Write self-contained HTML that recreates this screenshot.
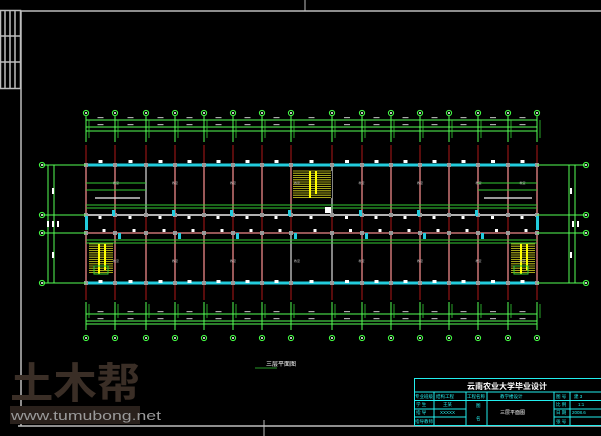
<!DOCTYPE html>
<html><head><meta charset="utf-8"><style>
html,body{margin:0;padding:0;background:#000;width:601px;height:436px;overflow:hidden}
svg{display:block}
text{font-family:"Liberation Sans","Noto Sans CJK SC",sans-serif}
</style></head><body>
<svg id="s" width="601" height="436" viewBox="0 0 601 436" xmlns="http://www.w3.org/2000/svg">
<rect width="601" height="436" fill="#000"/>
<!-- frame -->
<g stroke="#bdbdbd" stroke-width="1.5" fill="none">
<line x1="21" y1="11" x2="601" y2="11"/>
<line x1="21" y1="11" x2="21" y2="426"/>
<line x1="18" y1="426" x2="601" y2="426"/>
<rect x="0.5" y="10.5" width="20" height="78"/>
<line x1="0" y1="36" x2="21" y2="36"/><line x1="0" y1="62" x2="21" y2="62"/>
<line x1="5" y1="10" x2="5" y2="88"/><line x1="10" y1="10" x2="10" y2="88"/><line x1="15" y1="10" x2="15" y2="88"/>
</g>
<line x1="305" y1="0" x2="305" y2="11" stroke="#bdbdbd"/>
<line x1="264" y1="420" x2="264" y2="436" stroke="#bdbdbd"/>
<g id="plan"></g>
<!-- caption -->
<text x="266" y="366" font-size="6" fill="#fff">三层平面图</text>
<line x1="255" y1="368" x2="277" y2="368" stroke="#3c3" stroke-width="0.8"/>
<!-- watermark -->
<text x="10" y="398" font-size="42" font-weight="bold" fill="#3a2e26" textLength="130" lengthAdjust="spacingAndGlyphs" font-family="'Noto Sans CJK SC',sans-serif">土木帮</text>
<rect x="10" y="406" width="130" height="18" fill="#2a211c"/>
<text x="11" y="420" font-size="13" fill="#9a9a9a" textLength="150" lengthAdjust="spacingAndGlyphs" font-family="'Liberation Mono',monospace">www.tumubong.net</text>
<!-- title block -->
<g stroke="#2ee" stroke-width="1" fill="none">
<rect x="414.5" y="378.5" width="190" height="47"/>
<line x1="414" y1="392" x2="601" y2="392"/>
<line x1="414" y1="400.5" x2="601" y2="400.5"/>
<line x1="414" y1="409" x2="466" y2="409"/>
<line x1="554" y1="409" x2="601" y2="409"/>
<line x1="414" y1="417" x2="466" y2="417"/>
<line x1="554" y1="417" x2="601" y2="417"/>
<line x1="434" y1="392" x2="434" y2="426"/>
<line x1="466" y1="392" x2="466" y2="426"/>
<line x1="487" y1="392" x2="487" y2="426"/>
<line x1="554" y1="392" x2="554" y2="426"/>
<line x1="570" y1="392" x2="570" y2="426"/>
</g>
<text x="507" y="389" font-size="8" font-weight="bold" fill="#fff" text-anchor="middle">云南农业大学毕业设计</text>
<g fill="#2ee" font-size="4.5">
<text x="415" y="398">专业班级</text><text x="436" y="398">结构工程</text><text x="467" y="398">工程名称</text><text x="500" y="398">教学楼设计</text>
<text x="556" y="398">图 号</text><text x="574" y="398">建 3</text>
<text x="416" y="406">学 生</text><text x="443" y="406">王某</text><text x="476" y="407">图</text><text x="556" y="406">比 例</text><text x="578" y="406">1:1</text>
<text x="416" y="414">指 导</text><text x="440" y="414">XXXXX</text><text x="476" y="420">名</text><text x="556" y="414">日 期</text><text x="572" y="414">2008.6</text>
<text x="415" y="423">指导教师</text><text x="556" y="423">张 号</text>
</g>
<text x="500" y="414" font-size="5" fill="#fff">三层平面图</text>
</svg>
<script>
var g=document.getElementById('plan'),NS='http://www.w3.org/2000/svg',h='';
function L(x1,y1,x2,y2,c,w){h+='<line x1="'+x1+'" y1="'+y1+'" x2="'+x2+'" y2="'+y2+'" stroke="'+c+'" stroke-width="'+(w||1)+'"/>';}
function R(x,y,w,hh,c){h+='<rect x="'+x+'" y="'+y+'" width="'+w+'" height="'+hh+'" fill="'+c+'"/>';}
function C(x,y){h+='<circle cx="'+x+'" cy="'+y+'" r="2.6" fill="none" stroke="#4f4" stroke-width="1"/><circle cx="'+x+'" cy="'+y+'" r="1" fill="#fff"/>';}
var xs=[86,115,146,175,204,233,262,291,332,362,391,420,449,478,508,537];
var G='#3c3',GL='#5f5';
// red axis lines
xs.forEach(function(x){L(x,145,x,300,'#b01818',1);});
[165,215,233,283].forEach(function(y){L(60,y,565,y,'#b01818',0.8);});
// interior walls (pink)
xs.forEach(function(x,i){L(x,165,x,215,(i==8||i==2)?'#ccc':'#e88',1.3);L(x,233,x,283,(i==7||i==8)?'#ccc':'#e88',1.3);});
// corridor walls
L(86,215,537,215,'#ccc',1.8);L(86,233,537,233,'#e88',1.3);
// exterior cyan walls
L(86,165,537,165,'#2cd',3);L(86,283,537,283,'#2cd',3);
// corridor green bands
L(86,205,537,205,G,1);L(86,208,537,208,G,1);L(86,240,537,240,G,1);L(86,243,537,243,G,1);
L(86,183,146,183,G,1);L(86,190,146,190,G,1);L(95,198,140,198,'#ccc',1.5);
L(478,183,537,183,G,1);L(478,190,537,190,G,1);L(484,198,532,198,'#ccc',1.5);
// columns
xs.forEach(function(x){[165,215,233,283].forEach(function(y){R(x-2,y-2,4,4,'#999');});});
// windows white marks
for(var i=0;i<xs.length-1;i++){var m=(xs[i]+xs[i+1])/2;R(m-2,160,4,3,'#fff');R(m-2,280,4,3,'#fff');R(m-2,216,3,3,'#fff');R(m+2,229,3,3,'#fff');}
// doors cyan
[115,175,233,291,362,420,478].forEach(function(x){R(x-3,210,3,6,'#2cd');R(x+3,233,3,6,'#2cd');});
R(85,216,3,14,'#2cd');R(536,216,3,14,'#2cd');
// stairs
function ST(x,y,w,hh){R(x,y,w,hh,'#000');for(var k=0;k<=hh;k+=2.2)L(x+1,y+k,x+w-1,y+k,'#dd2',0.8);L(x+w/2-2,y,x+w/2-2,y+hh,'#ff0',2);L(x+w/2+4,y,x+w/2+4,y+hh-4,'#ff0',2);}
ST(292,171,40,27);ST(88,244,26,30);ST(510,244,26,30);
h+='<rect x="94" y="266" width="14" height="8" fill="none" stroke="'+G+'"/>';
h+='<rect x="514" y="266" width="14" height="8" fill="none" stroke="'+G+'"/>';
R(325,207,6,6,'#fff');
// dimension lines top
[120,127,131].forEach(function(y){L(86,y,537,y,GL,0.9);});
[304+10,321,324].forEach(function(y){L(86,y,537,y,GL,0.9);});
xs.forEach(function(x){L(x,116,x,142,GL,1);L(x+3,120,x+3,138,G,0.8);L(x,302,x,330,GL,1);L(x+3,304,x+3,318,G,0.8);C(x,113);C(x,338);});
for(var i=0;i<xs.length-1;i++){var m=(xs[i]+xs[i+1])/2;R(m-3,117,6,1.2,'#aaa');R(m-3,124,6,1.2,'#aaa');R(m-3,311,6,1.2,'#aaa');R(m-3,318,6,1.2,'#aaa');}
// side dims
[[48,54],[575,569]].forEach(function(p){L(p[0],165,p[0],283,GL,1);L(p[1],165,p[1],283,GL,1);});
[165,215,233,283].forEach(function(y){L(42,y,86,y,GL,0.9);L(537,y,586,y,GL,0.9);C(42,y);C(586,y);});
R(52,188,2,6,'#fff');R(52,252,2,6,'#fff');R(570,188,2,6,'#fff');R(570,252,2,6,'#fff');
R(47,221,2,6,'#fff');R(52,221,2,6,'#fff');R(57,221,2,6,'#fff');R(572,221,2,6,'#fff');R(577,221,2,6,'#fff');
// room labels
for(var i=0;i<xs.length-1;i+=2){var m=(xs[i]+xs[i+1]);h+='<text x="'+((xs[i]+xs[Math.min(i+2,15)])/2)+'" y="184" font-size="3" fill="#bbb" text-anchor="middle">教室</text><text x="'+((xs[i]+xs[Math.min(i+2,15)])/2)+'" y="262" font-size="3" fill="#bbb" text-anchor="middle">教室</text>';}
g.innerHTML=h;
</script>
</body></html>
